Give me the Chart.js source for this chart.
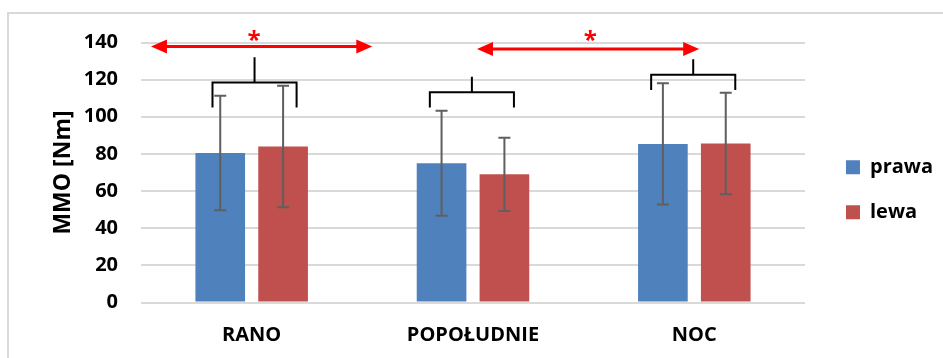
<!DOCTYPE html>
<html>
<head>
<meta charset="utf-8">
<script src="https://cdn.jsdelivr.net/npm/chart.js@4"></script>
<style>
    html, body { margin: 0; padding: 0; background: #fff; }
    #wrap { width: 943px; height: 358px; position: relative; }
</style>
</head>
<body>
<div id="wrap"><canvas id="mmo-chart" width="943" height="358"></canvas></div>
<script>
// MMO - prawa vs lewa
const categories = ['RANO', 'POPOŁUDNIE', 'NOC'];
const prawaMean = [80.5, 75.0, 85.4];
const prawaSD = [30.8, 28.3, 32.6];
const lewaMean = [84.0, 69.0, 85.6];
const lewaSD = [32.7, 19.7, 27.3];
const yMin = 0, yMax = 140, yStep = 20;

// brackets over each pair (values on the MMO axis, centres in category units)
const bracketCenter = [0.013, -0.005, -0.005];
const bracketLegs = [105.0, 105.0, 114.4];
const bracketBar = [118.4, 113.2, 122.7];
const bracketStem = [132.0, 121.6, 131.0];
const bracketHalf = 0.19;

// red significance arrows (ends in category units)
const arrowFrom = [-0.455, 1.018];
const arrowTo = [0.545, 2.022];
const arrowLevel = [137.8, 136.5];
const arrowMark = ['*', '*'];
const markAt = [0.011, 1.53];
const markLevel = 136.8;

Chart.defaults.font.family = "'Open Sans', sans-serif";
Chart.defaults.color = '#000';

const frame = {
    id: 'frame',
    beforeDraw(chart) {
        const c = chart.ctx;
        c.save();
        c.strokeStyle = '#d9d9d9';
        c.lineWidth = 2;
        c.strokeRect(8, 13, 1200, 600);
        c.restore();
    }
};

const legendShift = {
    id: 'legendShift',
    afterLayout(chart) {
        chart.legend.left += 16;
        chart.legend.right += 16;
        chart.legend.top -= 21;
    }
};

const errorBars = {
    id: 'errorBars',
    afterDatasetsDraw(chart) {
        const c = chart.ctx;
        const y = chart.scales.y;
        c.save();
        c.strokeStyle = '#5f5f5f';
        c.lineWidth = 2;
        chart.data.datasets.forEach((ds, di) => {
            chart.getDatasetMeta(di).data.forEach((bar, i) => {
                const hi = y.getPixelForValue(ds.data[i] + ds.errors[i]);
                const lo = y.getPixelForValue(ds.data[i] - ds.errors[i]);
                c.beginPath();
                c.moveTo(bar.x, hi); c.lineTo(bar.x, lo);
                c.moveTo(bar.x - 6, hi); c.lineTo(bar.x + 6, hi);
                c.moveTo(bar.x - 6, lo); c.lineTo(bar.x + 6, lo);
                c.stroke();
            });
        });
        c.restore();
    }
};

const annotations = {
    id: 'annotations',
    afterDraw(chart) {
        const c = chart.ctx;
        const x = chart.scales.x, y = chart.scales.y;
        c.save();
        // brackets
        c.strokeStyle = '#000';
        c.lineWidth = 2;
        categories.forEach((cat, i) => {
            const mid = i + bracketCenter[i];
            const xl = x.getPixelForValue(mid - bracketHalf);
            const xr = x.getPixelForValue(mid + bracketHalf);
            const xm = x.getPixelForValue(mid);
            const yl = y.getPixelForValue(bracketLegs[i]);
            const yb = y.getPixelForValue(bracketBar[i]);
            const ys = y.getPixelForValue(bracketStem[i]);
            c.beginPath();
            c.moveTo(xl, yl); c.lineTo(xl, yb); c.lineTo(xr, yb); c.lineTo(xr, yl);
            c.moveTo(xm, yb); c.lineTo(xm, ys);
            c.stroke();
        });
        // arrows
        c.strokeStyle = '#ff0000';
        c.fillStyle = '#ff0000';
        c.lineWidth = 3;
        const head = 16, half = 7;
        arrowFrom.forEach((from, i) => {
            const x1 = x.getPixelForValue(from);
            const x2 = x.getPixelForValue(arrowTo[i]);
            const ya = y.getPixelForValue(arrowLevel[i]);
            c.beginPath();
            c.moveTo(x1 + head - 1, ya); c.lineTo(x2 - head + 1, ya);
            c.stroke();
            c.beginPath();
            c.moveTo(x1, ya); c.lineTo(x1 + head, ya - half); c.lineTo(x1 + head, ya + half); c.closePath();
            c.moveTo(x2, ya); c.lineTo(x2 - head, ya - half); c.lineTo(x2 - head, ya + half); c.closePath();
            c.fill();
            c.font = "bold 24px 'Open Sans', sans-serif";
            c.textAlign = 'center';
            c.textBaseline = 'alphabetic';
            c.fillText(arrowMark[i], x.getPixelForValue(markAt[i]), y.getPixelForValue(markLevel));
        });
        c.restore();
    }
};

new Chart(document.getElementById('mmo-chart'), {
    type: 'bar',
    data: {
        labels: categories,
        datasets: [
            { label: 'prawa', data: prawaMean, errors: prawaSD, backgroundColor: '#4f81bd', borderWidth: 0 },
            { label: 'lewa', data: lewaMean, errors: lewaSD, backgroundColor: '#c0504d', borderWidth: 0 }
        ]
    },
    options: {
        responsive: false,
        animation: false,
        devicePixelRatio: 1,
        events: [],
        categoryPercentage: 0.568,
        barPercentage: 0.79,
        layout: { padding: { left: 0, top: 42.5, right: 16, bottom: 0 } },
        plugins: {
            legend: {
                position: 'right',
                labels: {
                    boxWidth: 14, boxHeight: 14, padding: 25,
                    font: { size: 20, weight: 'bold' }, color: '#000'
                }
            },
            tooltip: { enabled: false }
        },
        scales: {
            x: {
                grid: { display: false },
                border: { display: false },
                ticks: { font: { size: 20, weight: 'bold' }, color: '#000', padding: 13 },
                afterFit: s => { s.height = 55.5; }
            },
            y: {
                min: yMin, max: yMax,
                ticks: { stepSize: yStep, font: { size: 20, weight: 'bold' }, color: '#000', padding: 23 },
                grid: { color: '#d9d9d9', lineWidth: 2, drawTicks: false },
                border: { display: false },
                title: {
                    display: true, text: 'MMO [Nm]', color: '#000',
                    font: { size: 23, weight: 'bold' }, padding: { top: 50, bottom: 0 }
                },
                afterFit: s => { s.width = 141; }
            }
        }
    },
    plugins: [frame, legendShift, errorBars, annotations]
});
</script>
</body>
</html>
